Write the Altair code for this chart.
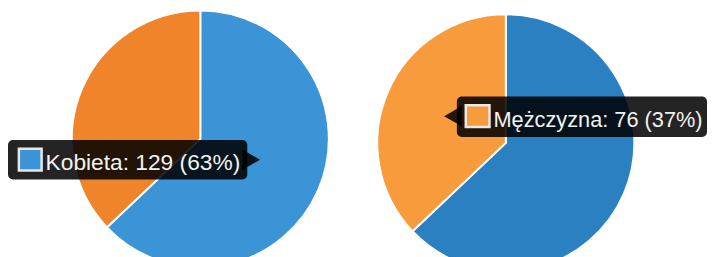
import altair as alt
import pandas as pd

# ---- data ----
categories = ["Kobieta", "Mężczyzna"]
values = [129, 76]
base_colors = ["#2a80c1", "#f0842b"]
highlight_colors = ["#3b94d6", "#f89b3c"]

total = sum(values)

rows = []
for pie in range(2):
    for i, (cat, val) in enumerate(zip(categories, values)):
        rows.append({
            "pie": pie,
            "idx": i,
            "category": cat,
            "value": val,
            "fill": highlight_colors[i] if i == pie else base_colors[i],
        })
pie_df = pd.DataFrame(rows)

tip_rows = []
for i, (cat, val) in enumerate(zip(categories, values)):
    tip_rows.append({
        "pie": i,
        "label": f"{cat}: {val} ({round(100 * val / total)}%)",
        "fill": highlight_colors[i],
    })
tip_df = pd.DataFrame(tip_rows)

FONT = "Liberation Sans"
R = 130


def pie_layer(p, cx, cy):
    d = pie_df[pie_df["pie"] == p]
    return alt.Chart(d).mark_arc(
        radius=R, stroke="white", strokeWidth=2, x=cx, y=cy
    ).encode(
        theta=alt.Theta("value:Q", stack=True),
        order=alt.Order("idx:O"),
        color=alt.Color("fill:N", scale=None),
    )


def tooltip_layers(p, box, arrow, arrow_shape, square, text_xy, font_size):
    d = tip_df[tip_df["pie"] == p]
    base = alt.Chart(d)
    box_l = base.mark_rect(cornerRadius=5, color="black", opacity=0.86).encode(
        x=alt.value(box[0]), x2=alt.value(box[1]),
        y=alt.value(box[2]), y2=alt.value(box[3]),
    )
    arrow_l = base.mark_point(
        shape=arrow_shape, filled=True, size=420, color="black", opacity=0.86
    ).encode(x=alt.value(arrow[0]), y=alt.value(arrow[1]))
    sq_l = base.mark_rect(stroke="#e8e8e8", strokeWidth=2.5).encode(
        x=alt.value(square[0]), x2=alt.value(square[1]),
        y=alt.value(square[2]), y2=alt.value(square[3]),
        color=alt.Color("fill:N", scale=None),
    )
    txt_l = base.mark_text(
        align="left", baseline="alphabetic", font=FONT, fontSize=font_size,
        color="#f2f2f2",
    ).encode(
        x=alt.value(text_xy[0]), y=alt.value(text_xy[1]), text="label:N"
    )
    return [box_l, arrow_l, sq_l, txt_l]


layers = [
    pie_layer(0, 194.5, 131),
    pie_layer(1, 503.5, 135),
]
layers += tooltip_layers(0, (0, 242, 132, 172), (246, 152), "triangle-right",
                         (11, 34, 141, 163), (38, 162), 23)
layers += tooltip_layers(1, (454, 707, 88, 129), (450, 108), "triangle-left",
                         (463, 487, 97, 119), (491, 119), 22)

chart = alt.layer(*layers).properties(
    width=708, height=249, padding=0, autosize="none"
).configure_view(stroke=None)

chart.save("out.html", embed_options={"renderer": "svg", "actions": False})
